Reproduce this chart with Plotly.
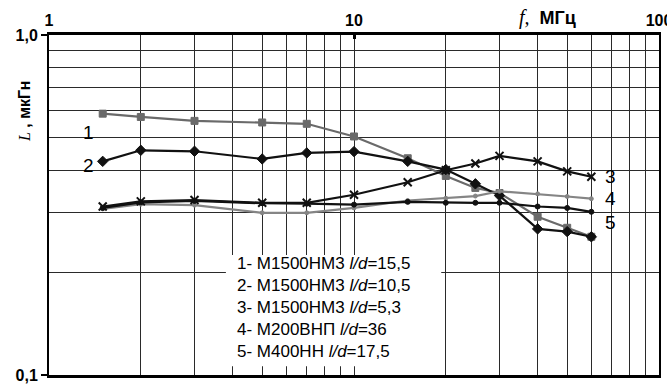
import plotly.graph_objects as go

# Frequency, MHz
freq = [1.5, 2, 3, 5, 7, 10, 15, 20, 25, 30, 40, 50, 60]
# Inductance, uH
L1 = [0.587, 0.574, 0.559, 0.553, 0.548, 0.503, 0.434, 0.385, 0.355, 0.343, 0.292, 0.271, 0.255]
L2 = [0.425, 0.458, 0.455, 0.432, 0.450, 0.454, 0.425, 0.402, 0.365, 0.337, 0.269, 0.264, 0.255]
L3 = [0.313, 0.324, 0.327, 0.321, 0.321, 0.339, 0.369, 0.400, 0.419, 0.441, 0.425, 0.397, 0.383]
L4 = [0.308, 0.318, 0.316, 0.300, 0.300, 0.310, 0.326, 0.331, 0.336, 0.347, 0.341, 0.335, 0.330]
L5 = [0.310, 0.322, 0.325, 0.320, 0.319, 0.317, 0.323, 0.321, 0.321, 0.321, 0.313, 0.310, 0.302]

legend_lines = [
    "1- М1500НМ3 <i>l/d</i>=15,5",
    "2- М1500НМ3 <i>l/d</i>=10,5",
    "3- М1500НМ3 <i>l/d</i>=5,3",
    "4- М200ВНП <i>l/d</i>=36",
    "5- М400НН <i>l/d</i>=17,5",
]

x_major = [1, 10, 100]
x_major_text = ["1", "10", "100"]
x_minor = [2, 3, 4, 5, 6, 7, 8, 9, 20, 30, 40, 50, 60, 70, 80, 90]
y_major = [0.1, 1.0]
y_major_text = ["0,1", "1,0"]
y_minor = [0.2, 0.3, 0.4, 0.5, 0.6, 0.7, 0.8, 0.9]

FONT = "Liberation Sans, Arial, sans-serif"

fig = go.Figure()

series = [
    (L1, "#6a6a6a", "square", 7, 1),
    (L2, "#111111", "diamond", 8, 1),
    (L4, "#858585", "circle", 4, 1),
    (L5, "#111111", "circle", 5, 1),
    (L3, "#111111", "x-thin-open", 8, 2),
]
for vals, col, sym, size, lw in series:
    fig.add_trace(go.Scatter(
        x=freq, y=vals, mode="lines+markers",
        line=dict(color=col, width=2.2),
        marker=dict(symbol=sym, size=size, color=col, line=dict(color=col, width=lw)),
        showlegend=False, hoverinfo="skip",
    ))

gridc = "#2a2a2a"
fig.update_xaxes(
    type="log", range=[0, 2], side="top", automargin=False,
    tickmode="array", tickvals=x_major, ticktext=x_major_text,
    tickfont=dict(family=FONT, size=16, color="black", weight="bold"),
    ticklabeloverflow="allow",
    ticks="inside", ticklen=4, tickwidth=3, tickcolor="black",
    showgrid=True, gridcolor=gridc, gridwidth=1,
    minor=dict(tickmode="array", tickvals=x_minor, showgrid=True, gridcolor=gridc, gridwidth=1),
    showline=True, linecolor="black", linewidth=3, mirror=True,
    zeroline=False,
)
fig.update_yaxes(
    type="log", range=[-1, 0], automargin=False,
    tickmode="array", tickvals=y_major, ticktext=y_major_text,
    tickfont=dict(family=FONT, size=16, color="black", weight="bold"),
    ticklabeloverflow="allow",
    ticks="outside", ticklen=6, tickwidth=1.5, tickcolor="black",
    showgrid=True, gridcolor=gridc, gridwidth=1,
    minor=dict(tickmode="array", tickvals=y_minor, showgrid=True, gridcolor=gridc, gridwidth=1),
    showline=True, linecolor="black", linewidth=2, mirror=True,
    zeroline=False,
)

# white legend box
fig.add_shape(type="rect", xref="paper", yref="paper",
              x0=0.290, x1=0.643, y0=0.026, y1=0.353,
              fillcolor="white", line=dict(width=0), layer="above")

annotations = [
    dict(x=0.305, y=0.200, xref="paper", yref="paper", xanchor="left", yanchor="middle",
         align="left", showarrow=False, text="<br>".join(legend_lines),
         font=dict(family=FONT, size=17, color="black")),
    dict(x=0.052, y=0.75, text="1"),
    dict(x=0.052, y=0.615, text="2"),
    dict(x=0.932, y=0.585, text="3"),
    dict(x=0.932, y=0.518, text="4"),
    dict(x=0.932, y=0.45, text="5"),
    dict(x=0.818, y=1.0, yshift=18, xanchor="center", yanchor="middle",
         text="<span style=\"font-family:'Liberation Serif';font-style:italic;font-weight:normal;font-size:20px\">f,</span>  МГц",
         font=dict(family=FONT, size=18, color="black", weight="bold")),
    dict(x=-0.039, y=0.774, textangle=-90, xanchor="center", yanchor="middle",
         text="<span style=\"font-family:'Liberation Serif';font-style:italic;font-weight:normal\">L</span> , мкГн",
         font=dict(family=FONT, size=16, color="black", weight="bold")),
]
for a in annotations:
    a.setdefault("xref", "paper")
    a.setdefault("yref", "paper")
    a.setdefault("showarrow", False)
    a.setdefault("font", dict(family=FONT, size=19, color="black"))
    fig.add_annotation(**a)

fig.update_layout(
    width=667, height=387,
    margin=dict(l=49, r=8, t=35, b=12),
    plot_bgcolor="white", paper_bgcolor="white",
    hovermode=False,
)

fig.write_html(
    "out.html",
    config={"displayModeBar": False, "staticPlot": True},
    post_script="document.body.style.margin='0px';document.body.style.padding='0px';document.body.style.overflow='hidden';",
)
